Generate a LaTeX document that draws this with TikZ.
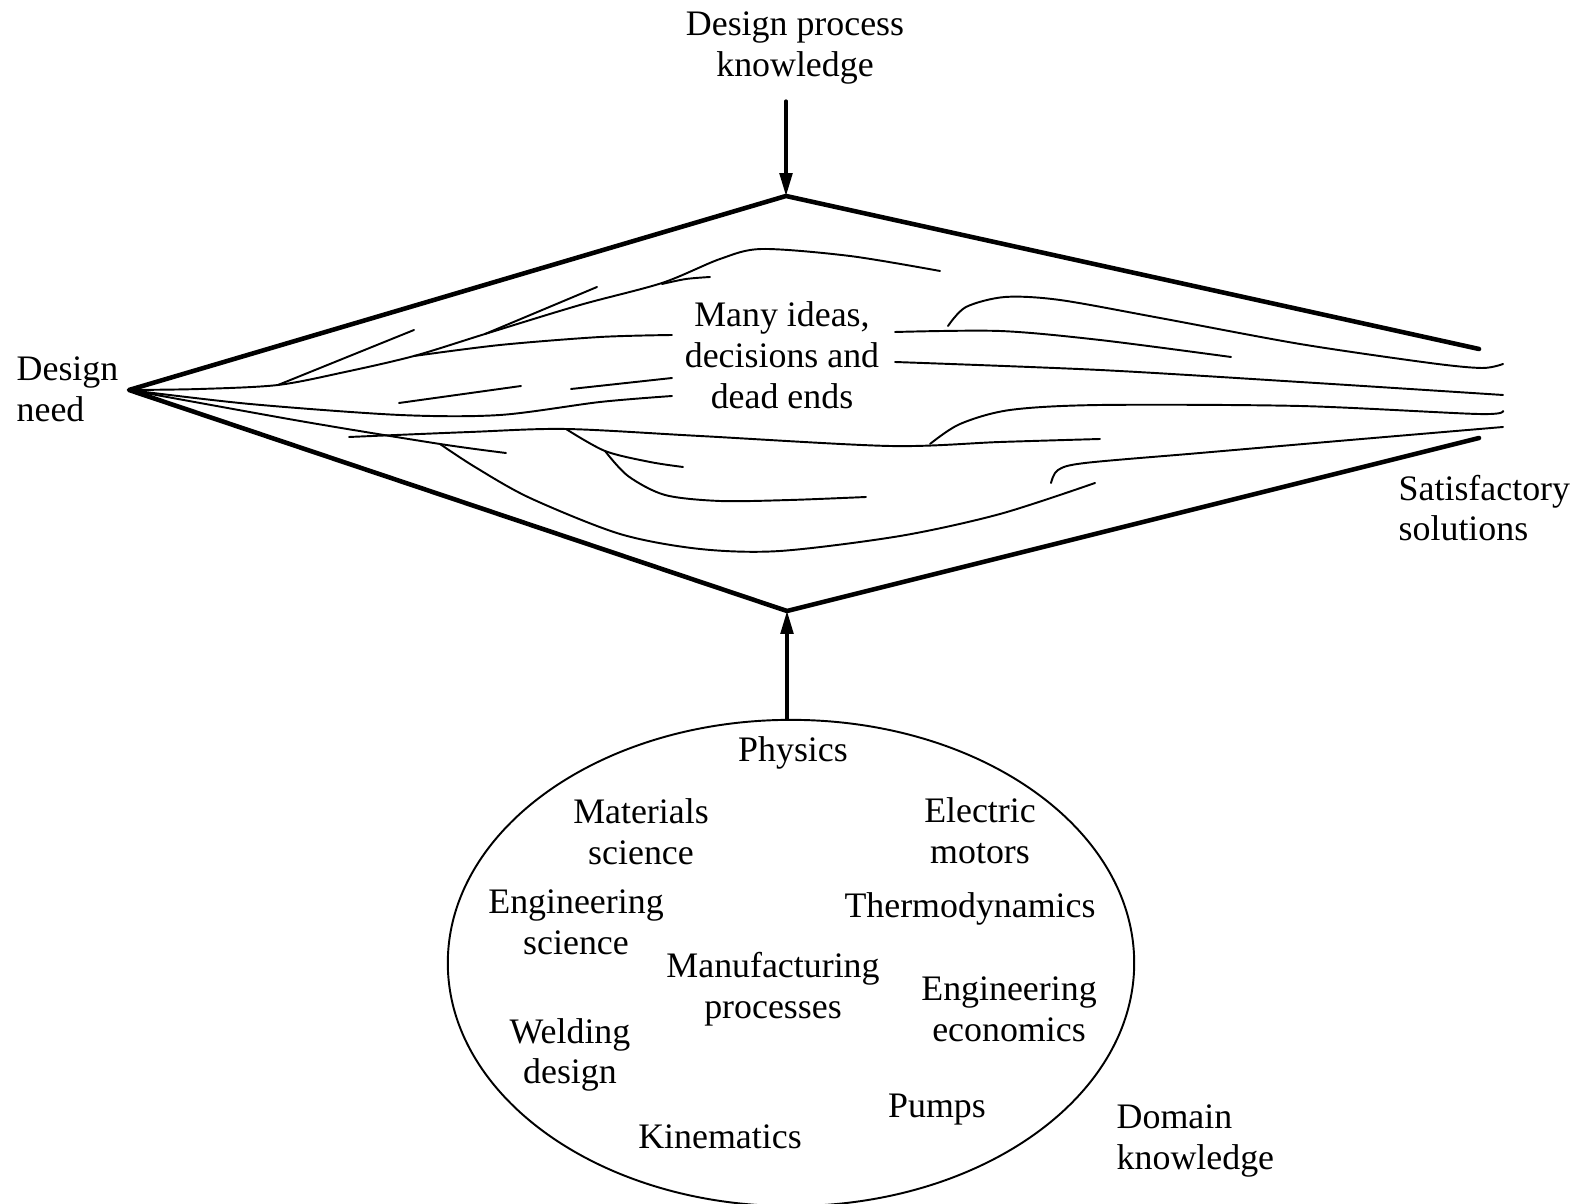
\documentclass[tikz,border=0pt]{standalone}
\usepackage{fontspec}
\setmainfont{Liberation Serif}
\usetikzlibrary{arrows.meta, positioning, shapes.geometric}

\tikzset{
    edge/.style={line width=1.3pt},
    idea/.style={line width=0.55pt},
    lbl/.style={inner sep=0pt, align=center, font=\fontsize{10.2}{11.6}\selectfont},
    feed/.style={line width=0.9pt, -{Triangle[length=6.5pt, width=3.6pt]}},
}

\begin{document}
\begin{tikzpicture}[x=0.01cm, y=-0.01cm, line join=round, line cap=round]

    \useasboundingbox (0,0) rectangle (1585,1204);

    % 菱形的顶点
    \coordinate (need) at (129,390);
    \coordinate (top) at (786,196);
    \coordinate (bot) at (787,611);
    \coordinate (tr) at (1479,349);
    \coordinate (br) at (1479,438);
    \coordinate (dpkfoot) at (786,101);

    \draw[edge] (tr) -- (top) -- (need) -- (bot) -- (br);

    % 标签
    \node[lbl] (dpk) at (795,48) {Design process\\knowledge};
    \node[lbl, anchor=west, align=left] (dneed) at (16,389) {Design\\need};
    \node[lbl] (ideas) at (782,355) {Many ideas,\\decisions and\\dead ends};
    \node[lbl, anchor=west, align=left] (sol) at (1398,508) {Satisfactory\\solutions};

    % 上半部分的想法线
    \draw[idea] plot[smooth, tension=0.5] coordinates {
        (129,390) (200,389) (278,385) (345,372) (414,356) (485,334) (580,305) (662,283) (720,259) (762,249) (850,256) (940,271)
    };
    \draw[idea] plot[smooth, tension=0.5] coordinates {(662,284) (686,279) (710,277)};
    \draw[idea] (485,334) -- (597,287);
    \draw[idea] (278,385) -- (414,330);
    \draw[idea] plot[smooth, tension=0.5] coordinates {(414,356) (500,345) (600,337) (672,335)};

    % 中间
    \draw[idea] plot[smooth, tension=0.5] coordinates {
        (129,390) (250,404) (400,415) (500,415) (600,402) (672,396)
    };
    \draw[idea] (399,403) -- (521,386);
    \draw[idea] (571,389) -- (672,378);

    % 右侧
    \draw[idea] plot[smooth, tension=0.5] coordinates {
        (948,326) (966,307) (1005,297) (1060,300) (1160,318) (1300,344) (1430,363) (1482,368) (1503,364)
    };
    \draw[idea] plot[smooth, tension=0.5] coordinates {(895,332) (1000,331) (1100,340) (1231,357)};
    \draw[idea] plot[smooth, tension=0.5] coordinates {(895,362) (1100,370) (1300,382) (1503,395)};
    \draw[idea] plot[smooth, tension=0.5] coordinates {
        (930,444) (960,424) (1010,410) (1100,405) (1300,406) (1478,414) (1503,411)
    };
    \draw[idea] plot[smooth, tension=0.5] coordinates {
        (1051,483) (1058,470) (1085,463) (1200,453) (1350,440) (1503,427)
    };

    % 下半部分
    \draw[idea] plot[smooth, tension=0.5] coordinates {
        (349,437) (470,432) (566,429) (700,436) (890,446) (1000,442) (1100,439)
    };
    \draw[idea] plot[smooth, tension=0.5] coordinates {(129,390) (300,421) (440,444) (506,453)};
    \draw[idea] plot[smooth, tension=0.5] coordinates {
        (440,444) (475,467) (530,498) (620,534) (700,549) (780,551) (900,536) (1000,514) (1095,483)
    };
    \draw[idea] plot[smooth, tension=0.5] coordinates {(566,429) (605,451) (650,462) (683,467)};
    \draw[idea] plot[smooth, tension=0.5] coordinates {
        (605,451) (628,476) (665,495) (720,501) (790,500) (866,497)
    };

    % 领域知识
    \node[draw, ellipse, idea, minimum width=6.86cm, minimum height=4.86cm, inner sep=0pt] (knowl) at (791,963) {};

    \node[lbl] (phys) at (793,753) {Physics};
    \node[lbl] (mats) at (641,832) {Materials\\science};
    \node[lbl] (elec) at (980,831) {Electric\\motors};
    \node[lbl] (engs) at (576,922) {Engineering\\science};
    \node[lbl] (thermo) at (970,909) {Thermodynamics};
    \node[lbl] (manu) at (773,989) {Manufacturing\\processes};
    \node[lbl] (econ) at (1009,1009) {Engineering\\economics};
    \node[lbl] (weld) at (570,1055) {Welding\\design};
    \node[lbl] (pumps) at (937,1110) {Pumps};
    \node[lbl] (kine) at (720,1137) {Kinematics};
    \node[lbl, anchor=west, align=left] (dom) at (1116,1141) {Domain\\knowledge};

    % 箭头
    \draw[feed] (dpkfoot) -- (top);
    \draw[feed] (bot |- knowl.north) -- (bot);

\end{tikzpicture}
\end{document}
